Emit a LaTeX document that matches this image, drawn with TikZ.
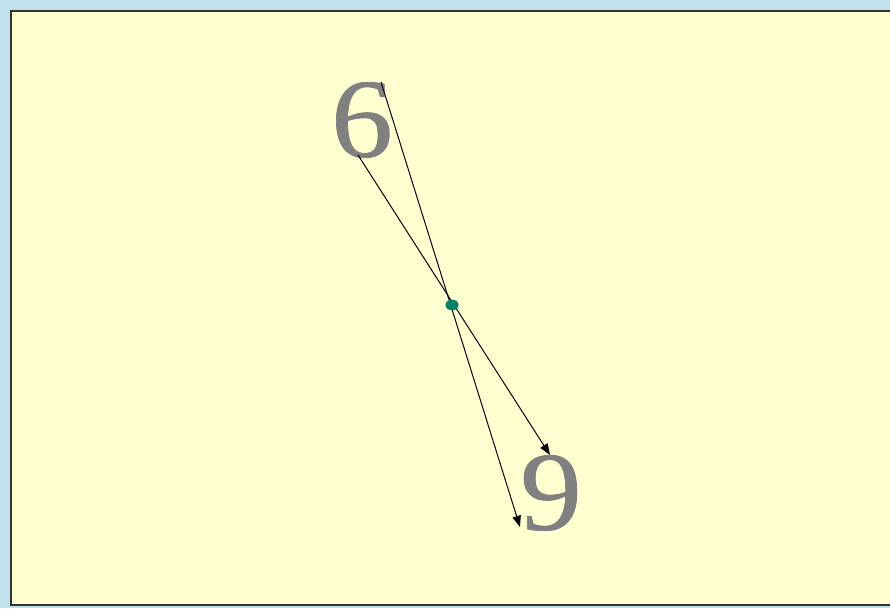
\documentclass[tikz,border=0pt]{standalone}
\usepackage{fontspec}
\newfontfamily\digitfont[FakeBold=0.7, FakeStretch=1.1]{Liberation Serif}
\usetikzlibrary{
  arrows.meta,
  shapes.geometric
}
\definecolor{framebg}{RGB}{192,226,236}
\definecolor{slidebg}{RGB}{255,255,208}
\definecolor{digitgray}{RGB}{128,128,128}
\definecolor{pivotgreen}{RGB}{10,130,105}

\begin{document}
\begin{tikzpicture}[
  x=0.025cm, y=-0.025cm,
  digit/.style={text=digitgray, font=\digitfont\fontsize{80}{80}\selectfont, inner sep=0pt},
  ray/.style={black, line width=0.7pt, -{Triangle[length=8pt, width=6pt]}},
  pivot/.style={ellipse, fill=pivotgreen, minimum width=0.33cm, minimum height=0.27cm, inner sep=0pt},
]
\useasboundingbox (0,0) rectangle (890,608);

% Frame and slide
\fill[framebg] (0,0) rectangle (890,608);
\filldraw[fill=slidebg, draw=black!80, line width=1.2pt] (11,11) rectangle (895,605);

% The two digits
\node[digit] (six)  at (362,120) {6};
\node[digit] (nine) at (551,493) {9};

% Ray ends
\coordinate (sixtop)  at (381,82);
\coordinate (sixbot)  at (358,155);
\coordinate (ninetop) at (550,455);
\coordinate (ninebot) at (520,527);

% Rays through the centre of rotation
\draw[ray] (sixtop) -- (ninebot);
\draw[ray] (sixbot) -- (ninetop);

% Centre of rotation
\node[pivot] (centre) at (452,305) {};

\end{tikzpicture}
\end{document}
